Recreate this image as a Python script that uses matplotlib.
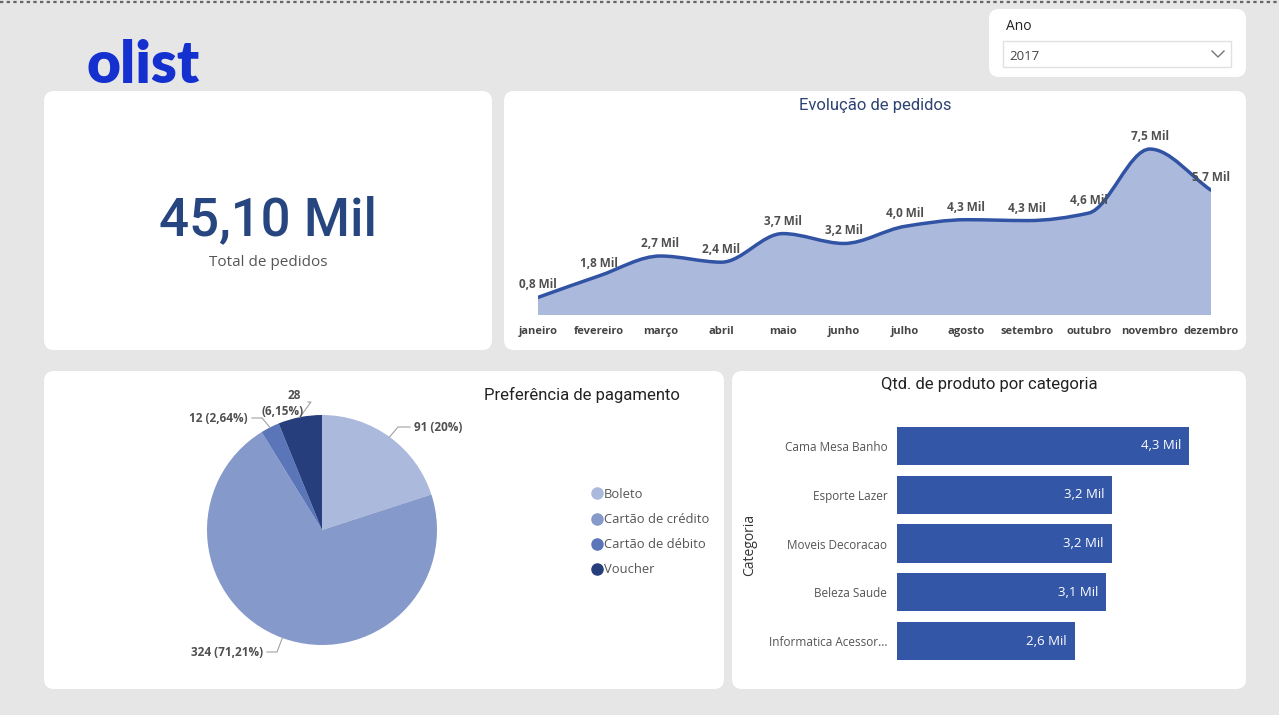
import numpy as np
import matplotlib
matplotlib.use("Agg")
import matplotlib.pyplot as plt
from matplotlib.patches import FancyBboxPatch, Rectangle, PathPatch
from matplotlib.path import Path
from matplotlib.lines import Line2D

W, H = 1279, 715
plt.rcParams['font.family'] = ['Open Sans', 'DejaVu Sans']

# data
meses = ["janeiro", "fevereiro", "março", "abril", "maio", "junho", "julho",
         "agosto", "setembro", "outubro", "novembro", "dezembro"]
pedidos_mil = [0.80, 1.78, 2.68, 2.40, 3.70, 3.25, 4.03, 4.33, 4.29, 4.63, 7.54, 5.67]
total_pedidos = "45,10 Mil"

pagamentos = ["Boleto", "Cartão de crédito", "Cartão de débito", "Voucher"]
pag_qtd = [91, 324, 12, 28]
pag_pct = ["20%", "71,21%", "2,64%", "6,15%"]

categorias = ["Cama Mesa Banho", "Esporte Lazer", "Moveis Decoracao",
              "Beleza Saude", "Informatica Acessor..."]
cat_qtd = [4.30, 3.17, 3.16, 3.08, 2.62]

ano = "2017"

fig = plt.figure(figsize=(W / 100, H / 100), dpi=100)
fig.patch.set_facecolor("#e6e6e6")


def px_axes(x, y, w, h, **kw):
    return fig.add_axes([x / W, 1 - (y + h) / H, w / W, h / H], **kw)


# background layer in pixel coords
bg = px_axes(0, 0, W, H)
bg.set_xlim(0, W)
bg.set_ylim(H, 0)
bg.axis("off")
bg.plot([0, W], [1.5, 1.5], ls=(0, (1.5, 1.5)), color="#666666", lw=1.6)

for (x, y, w, h) in [(44, 91, 448, 259), (504, 91, 742, 259), (44, 371, 680, 318),
                     (732, 371, 514, 318), (989, 9, 257, 68)]:
    bg.add_patch(FancyBboxPatch((x, y), w, h, boxstyle="round,pad=0,rounding_size=10",
                                fc="white", ec="none"))

# logo
bg.text(86, 83, "olist", fontsize=42, fontweight="heavy", color="#1430cf",
        family="Lato", va="baseline")

# year filter
bg.text(1006, 26, "Ano", fontsize=10, color="#222222", va="center")
bg.add_patch(Rectangle((1003, 41), 228, 26, fc="white", ec="#e1e1e1", lw=1))
bg.text(1009, 56, ano, fontsize=9.5, color="#444444", va="center")
bg.plot([1212, 1218, 1224], [51, 57, 51], color="#777777", lw=1)

# KPI card
bg.text(268, 221, total_pedidos, fontsize=38, color="#27457f", ha="center",
        va="center", family="Roboto", fontweight="medium")
bg.text(268, 263, "Total de pedidos", fontsize=11, color="#555555", ha="center",
        va="center")

# ---- area chart: Evolução de pedidos
bg.text(875, 105, "Evolução de pedidos", fontsize=12, color="#2e4273", ha="center",
        va="center", family="Roboto")
ax = px_axes(538, 120, 673, 195)
x = np.arange(len(pedidos_mil))
y = np.array(pedidos_mil)
# monotone tangents for a smooth line
d = np.diff(y)
m = np.zeros_like(y)
m[0], m[-1] = d[0], d[-1]
for i in range(1, len(y) - 1):
    if d[i - 1] * d[i] > 0:
        m[i] = 2 / (1 / d[i - 1] + 1 / d[i])
verts = [(x[0], y[0])]
codes = [Path.MOVETO]
for i in range(len(y) - 1):
    verts += [(x[i] + 1 / 3, y[i] + m[i] / 3), (x[i + 1] - 1 / 3, y[i + 1] - m[i + 1] / 3),
              (x[i + 1], y[i + 1])]
    codes += [Path.CURVE4] * 3
line_path = Path(verts, codes)
fill_path = Path(verts + [(x[-1], 0), (x[0], 0), (x[0], y[0])],
                 codes + [Path.LINETO, Path.LINETO, Path.CLOSEPOLY])
ax.add_patch(PathPatch(fill_path, fc="#abb9dc", ec="none"))
ax.add_patch(PathPatch(line_path, fc="none", ec="#3153a4", lw=2.5, capstyle="round"))
for xi, yi in zip(x, y):
    ax.annotate(f"{yi:.1f} Mil".replace(".", ","), (xi, yi), xytext=(0, 9),
                textcoords="offset points", ha="center", va="center",
                fontsize=8.5, fontweight="bold", color="#505050")
ax.set_xlim(0, len(y) - 1)
ax.set_ylim(0, 8.86)
ax.set_xticks(x)
ax.set_xticklabels(meses, fontsize=8, fontweight="bold", color="#444444")
ax.tick_params(axis="x", length=0, pad=8)
ax.set_yticks([])
for s in ax.spines.values():
    s.set_visible(False)
ax.patch.set_alpha(0)

# ---- pie chart: Preferência de pagamento
bg.text(582, 395, "Preferência de pagamento", fontsize=12, color="#222222",
        ha="center", va="center", family="Roboto")
pie_colors = ["#abb9dc", "#8599cb", "#5a75b8", "#263f7c"]
R = 115
pax = px_axes(322 - 150, 530 - 150, 300, 300)
wedges, _ = pax.pie(pag_qtd, colors=pie_colors, startangle=90, counterclock=False,
                    radius=1, wedgeprops=dict(lw=0))
pax.set_xlim(-150 / R, 150 / R)
pax.set_ylim(-150 / R, 150 / R)
pax.axis("off")

# label layout: (elbow in px, label anchor in px, ha)
layout = [
    ((398, 427), (414, 427), "left"),
    ((277, 652), (263, 652), "right"),
    ((262, 418), (248, 418), "right"),
    ((311, 402), (304, 402), "right"),
]
for wdg, q, pct, (elb, lab, ha) in zip(wedges, pag_qtd, pag_pct, layout):
    ang = np.deg2rad((wdg.theta1 + wdg.theta2) / 2)
    sx, sy = np.cos(ang), np.sin(ang)
    ex, ey = (elb[0] - 322) / R, (530 - elb[1]) / R
    lx, ly = (lab[0] - 322) / R, (530 - lab[1]) / R
    end_x = lx - 4 / R if ha == "left" else lx + 4 / R
    pax.plot([sx, ex, end_x], [sy, ey, ey], color="#a0a0a0", lw=0.8, clip_on=False)
    if q == 28:
        pax.text(lx - 3 / R, (530 - 395) / R, str(q), ha="right", va="center",
                 fontsize=8.5, fontweight="bold", color="#505050")
        pax.text(lx, (530 - 411) / R, f"({pct})", ha="right", va="center",
                 fontsize=8.5, fontweight="bold", color="#505050")
    else:
        pax.text(lx, ly, f"{q} ({pct})", ha=ha, va="center", fontsize=8.5,
                 fontweight="bold", color="#505050")

handles = [Line2D([], [], marker="o", ls="none", color=c, markersize=8) for c in pie_colors]
fig.legend(handles, pagamentos, loc="upper left",
           bbox_to_anchor=(590 / W, 1 - 488 / H), frameon=False, fontsize=9.4,
           labelcolor="#555555", handletextpad=0.05, handlelength=1.0,
           labelspacing=0.93, borderpad=0, borderaxespad=0)

# ---- bar chart: Qtd. de produto por categoria
bg.text(989, 385, "Qtd. de produto por categoria", fontsize=12, color="#222222",
        ha="center", va="center", family="Roboto")
bax = px_axes(897, 421.6, 333, 243.8)
pos = np.arange(len(categorias))
bars = bax.barh(pos, cat_qtd, height=0.78, color="#3356a7")
for b, v in zip(bars, cat_qtd):
    bax.annotate(f"{v:.1f} Mil".replace(".", ","), (v, b.get_y() + b.get_height() / 2),
                 xytext=(-6, 0), textcoords="offset points", ha="right", va="center",
                 fontsize=9.5, color="white")
bax.set_ylim(len(categorias) - 0.5, -0.5)
bax.set_xlim(0, 4.9)
bax.set_yticks(pos)
bax.set_yticklabels(categorias, fontsize=8.5, color="#555555")
bax.tick_params(axis="y", length=0, pad=7)
bax.set_xticks([])
for s in bax.spines.values():
    s.set_visible(False)
bax.patch.set_alpha(0)
bg.text(750, 545, "Categoria", fontsize=10, color="#333333", rotation=90,
        ha="center", va="center")

fig.savefig("out.png", dpi=100, facecolor=fig.get_facecolor())
